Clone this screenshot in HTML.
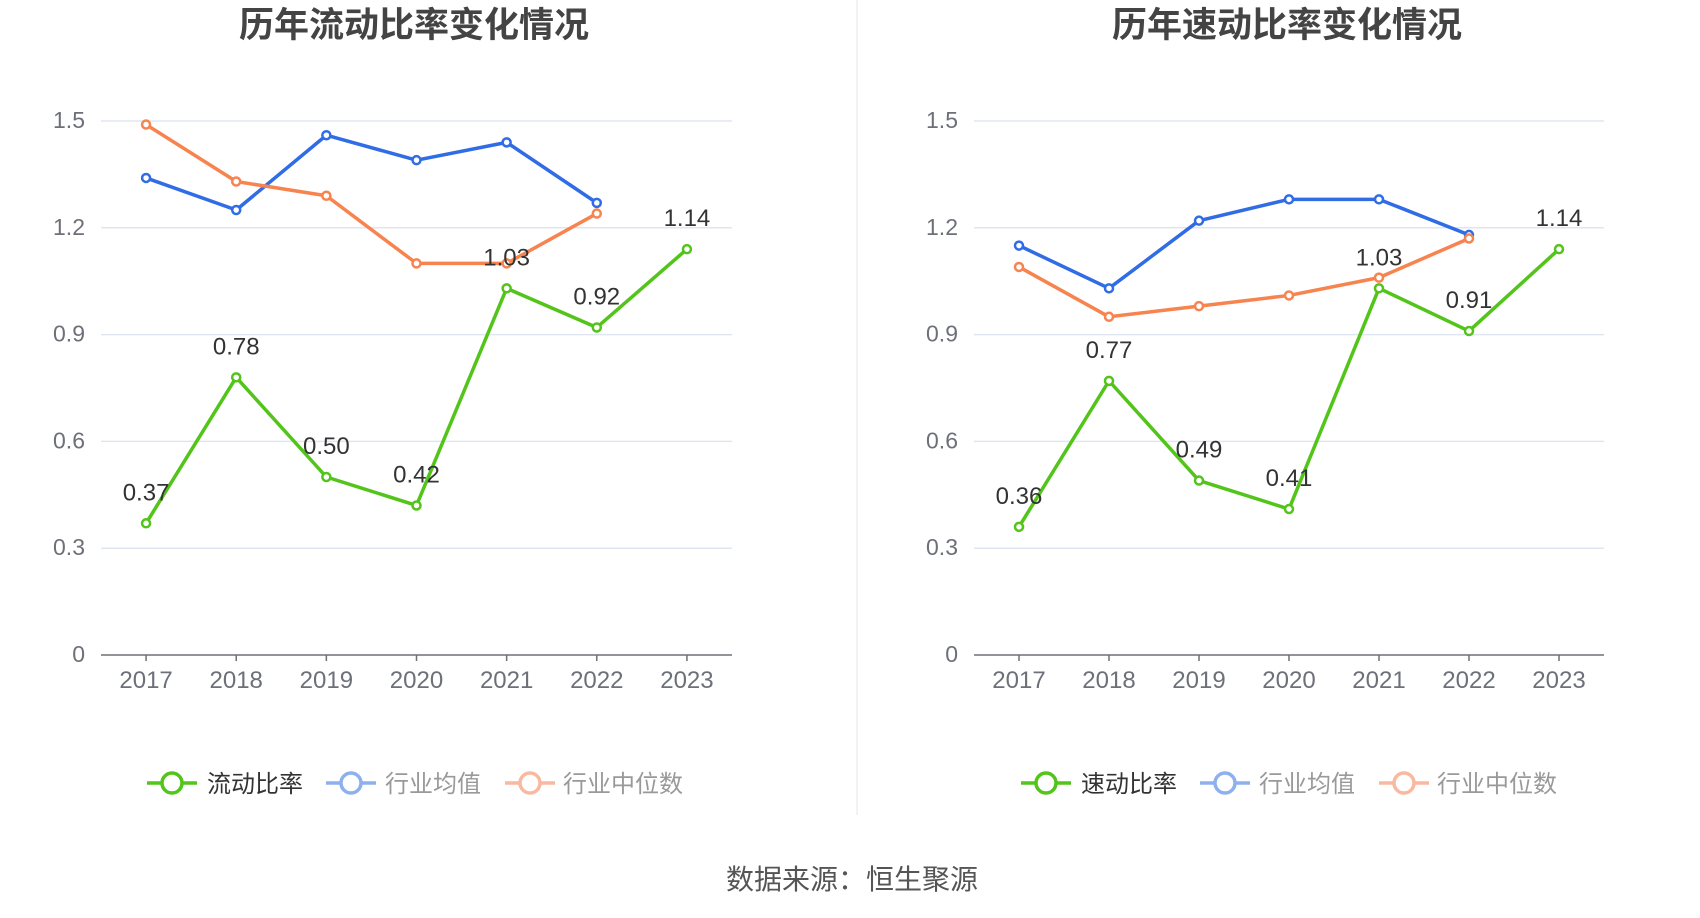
<!DOCTYPE html>
<html><head><meta charset="utf-8"><style>
html,body{margin:0;padding:0;background:#fff;}
svg{display:block;font-family:"Liberation Sans","Noto Sans CJK SC",sans-serif;}
</style></head><body>
<svg id="s" width="1700" height="918" viewBox="0 0 1700 918">
<line x1="857" y1="0" x2="857" y2="815" stroke="#eeeeee" stroke-width="1.5"/>
<text x="852" y="889" text-anchor="middle" font-size="28" fill="#555">数据来源：恒生聚源</text>
</svg>
<script>
const years = ["2017","2018","2019","2020","2021","2022","2023"];
const yTicks = [0,0.3,0.6,0.9,1.2,1.5];
const leftMain = [0.37,0.78,0.50,0.42,1.03,0.92,1.14];
const leftAvg = [1.34,1.25,1.46,1.39,1.44,1.27];
const leftMed = [1.49,1.33,1.29,1.10,1.10,1.24];
const rightMain = [0.36,0.77,0.49,0.41,1.03,0.91,1.14];
const rightAvg = [1.15,1.03,1.22,1.28,1.28,1.18];
const rightMed = [1.09,0.95,0.98,1.01,1.06,1.17];
const titles = ["历年流动比率变化情况","历年速动比率变化情况"];
const mainNames = ["流动比率","速动比率"];

const NS="http://www.w3.org/2000/svg";
const svg=document.getElementById('s');
function mk(tag,attrs,parent,text){const e=document.createElementNS(NS,tag);for(const k in attrs)e.setAttribute(k,attrs[k]);if(text!==undefined)e.textContent=text;(parent||svg).appendChild(e);return e;}

function drawChart(idx,x0,x1,titleX,main,avg,med){
  const g=mk('g',{});
  
  
  const yTop=121,yBot=655,vmax=1.5;
  const y=v=>yBot-(v/vmax)*(yBot-yTop);
  const bw=(x1-x0)/years.length;
  const x=i=>x0+bw*(i+0.5);
  const t=mk('text',{x:titleX,y:37,'text-anchor':'middle','font-size':35,'font-weight':'bold',fill:'#444'},g,titles[idx]);
  
  
  yTicks.forEach(v=>{
    if(v>0){const l=mk('line',{x1:x0,x2:x1,y1:y(v),y2:y(v),stroke:'#e0e6f1','stroke-width':1.5},g);
      
      }
    const tl=mk('text',{x:x0-16,y:y(v)+7,'text-anchor':'end','font-size':23,fill:'#6e7079'},g,v===0?'0':v.toFixed(1));
    
    
  });
  const ax=mk('line',{x1:x0,x2:x1,y1:yBot,y2:yBot,stroke:'#6e7079','stroke-width':1.5},g);
  
  
  years.forEach((yr,i)=>{
    mk('line',{x1:x(i),x2:x(i),y1:yBot,y2:yBot+6,stroke:'#6e7079','stroke-width':1.5},g);
    const tl=mk('text',{x:x(i),y:yBot+33,'text-anchor':'middle','font-size':24,fill:'#6e7079'},g,yr);
    
    
  });
  function series(vals,color,name,labels){
    const pts=vals.map((v,i)=>x(i)+','+y(v)).join(' ');
    const pl=mk('polyline',{points:pts,fill:'none',stroke:color,'stroke-width':3.5,'stroke-linejoin':'round'},g);
    
    
    vals.forEach((v,i)=>{
      const c=mk('circle',{cx:x(i),cy:y(v),r:4,fill:'#fff',stroke:color,'stroke-width':2.5},g);
      
      
    });
    if(labels) vals.forEach((v,i)=>{
      const tl=mk('text',{x:x(i),y:y(v)-23,'text-anchor':'middle','font-size':24,fill:'#333'},g,v.toFixed(2));
      
      
    });
  }
  series(avg,'#2f6ce5','industry-average');
  series(med,'#f7834f','industry-median');
  series(main,'#52c41a','main-ratio',true);
  const off=idx===0?0:874;
  const items=[[mainNames[idx],'#52c41a','#333'],['行业均值','#8eb0ef','#999'],['行业中位数','#f9b9a0','#999']];
  const lx=[147,326,505], tx=[207,385,563];
  items.forEach((it,i)=>{
    const lg=mk('g',{},g);
    
    
    mk('line',{x1:lx[i]+off,x2:lx[i]+off+50,y1:783,y2:783,stroke:it[1],'stroke-width':3.5},lg);
    mk('circle',{cx:lx[i]+off+25,cy:783,r:10,fill:'#fff',stroke:it[1],'stroke-width':3.5},lg);
    mk('text',{x:tx[i]+off,y:792,'font-size':24,fill:it[2]},lg,it[0]);
  });
}
drawChart(0,101,732,414,leftMain,leftAvg,leftMed);
drawChart(1,974,1604,1287,rightMain,rightAvg,rightMed);
</script>
</body></html>
